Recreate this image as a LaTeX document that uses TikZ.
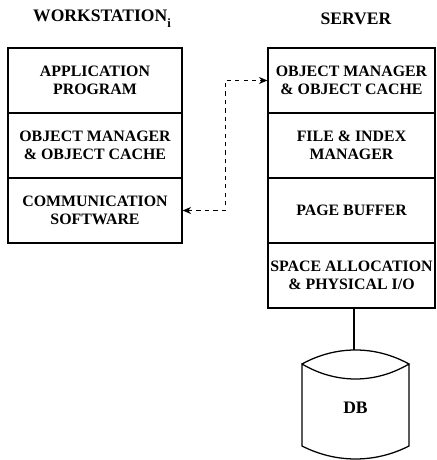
\documentclass[tikz,border=0pt]{standalone}
\usepackage{fontspec}
\setmainfont{Liberation Serif}
\usetikzlibrary{arrows.meta}

\begin{document}
\begin{tikzpicture}[
    layer/.style={draw, line width=0.9pt, align=center, inner sep=0pt,
      minimum width=4.35cm, minimum height=1.625cm,
      font=\fontsize{11.3}{12.8}\selectfont\bfseries},
    srvlayer/.style={layer, minimum width=4.175cm},
    title/.style={font=\fontsize{12.5}{14}\selectfont\bfseries},
    link/.style={dashed, line width=0.6pt, {Stealth[length=6pt,width=5pt]}-{Stealth[length=6pt,width=5pt]}}
  ]
    \useasboundingbox (0,0) rectangle (10.925,11.5);

    % workstation side
      \draw (2.55,11.03)node[title](wstitle){WORKSTATION\raisebox{-0.8ex}{\small i}};
      \draw (2.375,9.4875)node[layer](wsapp){APPLICATION\\PROGRAM};
      \draw (2.375,7.8625)node[layer](wsobj){OBJECT MANAGER\\\& OBJECT CACHE};
      \draw (2.375,6.2375)node[layer](wscomm){COMMUNICATION\\SOFTWARE};

    % server side
      \draw (8.9,11.03)node[title](srvtitle){SERVER};
      \draw (8.7875,9.4875)node[srvlayer](srvobj){OBJECT MANAGER\\\& OBJECT CACHE};
      \draw (8.7875,7.8625)node[srvlayer](srvfile){FILE \& INDEX\\MANAGER};
      \draw (8.7875,6.2375)node[srvlayer](srvbuf){PAGE BUFFER};
      \draw (8.7875,4.6125)node[srvlayer](srvio){SPACE ALLOCATION\\\& PHYSICAL I/O};

    % dashed link
      \coordinate (bend) at (5.625,9.4875);
      \draw[link] (wscomm.east) -| (bend) -- (srvobj.west);

    % database drum
      \coordinate (dbtop) at (8.85,2.75);
      \draw[line width=0.9pt] (srvio.south -| dbtop) -- (dbtop);
      \draw[line width=0.9pt] (7.55,2.4) .. controls (8.4,2.867) and (9.375,2.867) .. (10.225,2.4)
        .. controls (9.375,1.9) and (8.4,1.9) .. (7.55,2.4) -- (7.55,0.35)
        .. controls (8.4,-0.083) and (9.375,-0.083) .. (10.225,0.35) -- (10.225,2.4);
      \draw (8.8875,1.3)node[font=\fontsize{12.5}{14}\selectfont\bfseries](db){DB};
  \end{tikzpicture}
\end{document}
